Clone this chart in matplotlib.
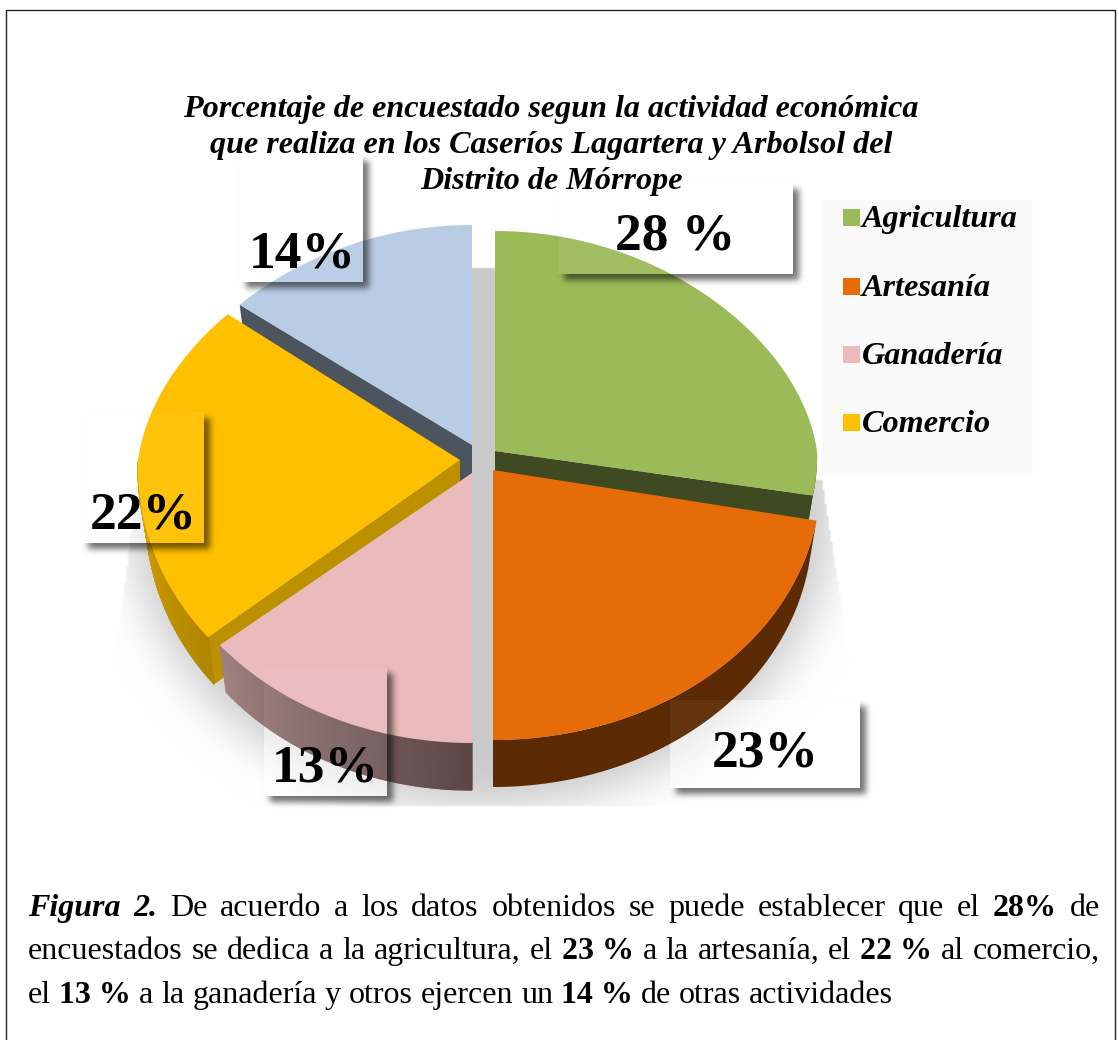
import numpy as np
import matplotlib
matplotlib.use('Agg')
import matplotlib.pyplot as plt
from matplotlib.patches import Polygon, Rectangle

# data
categories = ['Agricultura', 'Artesanía', 'Ganadería', 'Comercio', 'Otros']
# slice sizes as drawn in the picture (the typed labels say 23 and 13)
slice_sizes = [28, 22, 14, 22, 14]
label_texts = ['28 %', '23%', '13%', '22%', '14%']
legend_names = ['Agricultura', 'Artesanía', 'Ganadería', 'Comercio']
title_lines = ['Porcentaje de encuestado segun la actividad económica',
               'que realiza en los Caseríos Lagartera y Arbolsol del',
               'Distrito de Mórrope']

# styles
top_colors = ['#9bbb59', '#e66c0a', '#ebbabb', '#ffc000', '#b8cce4']
wall_from = ['#3f4a22', '#5c2a03', '#a08080', '#d4a200', '#4c555e']
wall_to = ['#3f4a22', '#5c2a03', '#5c4646', '#b08500', '#4c555e']
radial_colors = ['#3f4a22', '#5c2a03', '#a08080', '#bd9000', '#4c555e']
explode = [(12, -9), (10, 10), (-11, 13), (-23, 0), (-11, -15)]
# small per-slice corrections of the hand-made perspective
x_scale = [1, 1.018, 1, 1, 1]
back_scale = [1, 1, 1, 1.04, 1]
front_scale = [0.88, 1, 1, 1.03, 1]
draw_order = [4, 0, 3, 2, 1]
label_boxes = [(558, 183, 793, 274), (670, 700, 860, 788), (264, 667, 387, 796),
               (82, 412, 204, 543), (240, 155, 363, 282)]
label_centers = [(675, 231), (765, 748), (325, 763), (143, 510), (302, 249)]
legend_rows = [218, 287, 355, 423]

CX, CY = 483, 460
RX, RY_BACK, RY_FRONT = 322, 220, 270
K_BACK, K_FRONT = 0.1, 0.025
DEPTH = 47
FLOOR_SHRINK = 0.975
W, H = 1119, 1040
SERIF = 'Liberation Serif'


def rim(i, angles, offset):
    s, c = np.sin(np.radians(angles)), np.cos(np.radians(angles))
    k = np.where(c > 0, K_BACK, K_FRONT)
    ry = np.where(c > 0, RY_BACK * back_scale[i], RY_FRONT * front_scale[i])
    return RX * x_scale[i] * s * (1 - k * c) + offset[0], -ry * c + offset[1]


def blur(mask, sigma):
    n = int(sigma * 3)
    kernel = np.exp(-0.5 * (np.arange(-n, n + 1) / sigma) ** 2)
    kernel /= kernel.sum()
    mask = np.apply_along_axis(lambda v: np.convolve(v, kernel, mode='same'), 0, mask)
    return np.apply_along_axis(lambda v: np.convolve(v, kernel, mode='same'), 1, mask)


def draw_floor_shadow(ax):
    yy, xx = np.mgrid[0:H // 2, 0:W // 2] * 2
    mask = (((xx - 480) / 352.0) ** 2 + ((yy - 505) / 302.0) ** 2 < 1).astype(float)
    mask = blur(mask, 11)
    mask[(yy < 267) | (yy > 805)] = 0
    # the soft shadow is cut by two slanted sides
    mask[xx < 133 - (yy - 510) * 0.125] = 0
    mask[xx > 822 + (yy - 490) * 0.155] = 0
    mask[(yy < 480) & ((xx < 300) | (xx > 650))] = 0
    img = np.zeros(mask.shape + (4,))
    img[..., :3] = 0.796
    img[..., 3] = np.clip(mask, 0, 1)
    ax.imshow(img, extent=(0, W, H, 0), zorder=1, interpolation='bilinear', aspect='auto')


def draw_slice(ax, i, start, end):
    offset = (CX + explode[i][0], CY + explode[i][1])
    angles = np.linspace(start, end, 120)
    xs, ys = rim(i, angles, offset)
    low_x = offset[0] + (xs - offset[0]) * FLOOR_SHRINK
    low_y = ys + DEPTH

    # radial cut faces that look at the viewer
    faces = []
    if np.sin(np.radians(start)) < -0.01:
        faces.append(0)
    if np.sin(np.radians(end)) > 0.01:
        faces.append(-1)
    for k in faces:
        pts = [offset, (xs[k], ys[k]), (low_x[k], low_y[k]), (offset[0], offset[1] + DEPTH)]
        ax.add_patch(Polygon(pts, fc=radial_colors[i], ec='none', zorder=3))

    # outer wall, front half only
    front = np.cos(np.radians(angles)) < 0
    if front.any():
        a, b = np.where(front)[0][[0, -1]]
        if wall_from[i] == wall_to[i]:
            pts = list(zip(xs[a:b + 1], ys[a:b + 1])) + list(zip(low_x[a:b + 1][::-1], low_y[a:b + 1][::-1]))
            ax.add_patch(Polygon(pts, fc=wall_from[i], ec='none', zorder=3))
        else:
            c0 = np.array(matplotlib.colors.to_rgb(wall_from[i]))
            c1 = np.array(matplotlib.colors.to_rgb(wall_to[i]))
            for k in range(a, b):
                t = (k - a) / max(b - a - 1, 1)
                col = c1 * (1 - t) + c0 * t
                pts = [(xs[k], ys[k]), (xs[k + 1], ys[k + 1]), (low_x[k + 1], low_y[k + 1]), (low_x[k], low_y[k])]
                ax.add_patch(Polygon(pts, fc=col, ec=col, lw=1.0, zorder=3))

    pts = [offset] + list(zip(xs, ys))
    ax.add_patch(Polygon(pts, fc=top_colors[i], ec='none', zorder=3))


def draw_box_shadow(ax, box):
    x0, y0, x1, y1 = box
    yy, xx = np.mgrid[0:H, 0:W]
    mask = ((xx >= x0 + 6) & (xx < x1 + 6) & (yy >= y0 + 6) & (yy < y1 + 6)).astype(float)
    sub = mask[y0 - 5:y1 + 25, x0 - 5:x1 + 25]
    sub = blur(sub, 3.2)
    sub[5:5 + y1 - y0, 5:5 + x1 - x0] = 0
    img = np.zeros(sub.shape + (4,))
    img[..., 3] = sub * 0.55
    ax.imshow(img, extent=(x0 - 5, x1 + 25, y1 + 25, y0 - 5), zorder=5,
              interpolation='bilinear', aspect='auto')


def draw_justified(ax, fig, runs, y, left, right, size, justify=True):
    renderer = fig.canvas.get_renderer()
    items = []
    for word, bold, italic in runs:
        t = ax.text(0, y, word, family=SERIF, fontsize=size, color='black', va='baseline',
                    fontweight='bold' if bold else 'normal',
                    fontstyle='italic' if italic else 'normal', zorder=7)
        items.append((t, t.get_window_extent(renderer).width))
    used = sum(w for _, w in items)
    gap = (right - left - used) / (len(items) - 1) if justify else size * 100 / 72 * 0.25
    x = left
    for t, w in items:
        t.set_x(x)
        x += w + gap


def parse(line):
    # *x* = bold, _x_ = bold italic
    runs = []
    for word in line.split(' '):
        if word.startswith('_'):
            runs.append((word.strip('_').replace('~', ' '), True, True))
        elif word.startswith('*'):
            runs.append((word.strip('*').replace('~', ' '), True, False))
        else:
            runs.append((word, False, False))
    return runs


fig = plt.figure(figsize=(W / 100, H / 100), dpi=100)
ax = fig.add_axes([0, 0, 1, 1])
ax.set_xlim(0, W)
ax.set_ylim(H, 0)
ax.axis('off')

# page border
ax.plot([5.5, 5.5, 1114.5, 1114.5], [H, 9.5, 9.5, H], color='#222222', lw=1, zorder=8)

draw_floor_shadow(ax)

for box in label_boxes:
    ax.add_patch(Rectangle((box[0], box[1]), box[2] - box[0], box[3] - box[1],
                           fc='white', alpha=0.55, ec='none', zorder=2))

edges = np.concatenate([[0], np.cumsum(slice_sizes)]) * 360.0 / sum(slice_sizes)
for i in draw_order:
    draw_slice(ax, i, edges[i], edges[i + 1])

for box in label_boxes:
    draw_box_shadow(ax, box)
    ax.add_patch(Rectangle((box[0], box[1]), box[2] - box[0], box[3] - box[1],
                           fc='white', alpha=0.05, ec='none', zorder=4))

for txt, (x, y) in zip(label_texts, label_centers):
    ax.text(x, y, txt, family=SERIF, fontsize=38.5, fontweight='bold', ha='center',
            va='center_baseline', zorder=7)

# title
for line, y in zip(title_lines, [109, 146, 182]):
    ax.text(551, y, line, family=SERIF, fontsize=23.1, fontweight='bold', fontstyle='italic',
            ha='center', va='center', zorder=7)

# legend
ax.add_patch(Rectangle((822, 200), 211, 273, fc='#f9f9f9', ec='none', zorder=0))
for name, color, y in zip(legend_names, top_colors, legend_rows):
    ax.add_patch(Rectangle((843, y - 9), 17, 17, fc=color, ec='none', zorder=6))
    ax.text(862, y + 2, name, family=SERIF, fontsize=23.2, fontweight='bold', fontstyle='italic',
            va='center', zorder=7)

# caption
line1 = '_Figura_ _2._ De acuerdo a los datos obtenidos se puede establecer que el *28%* de'
line2 = 'encuestados se dedica a la agricultura, el *23~%* a la artesanía, el *22~%* al comercio,'
line3 = 'el *13~%* a la ganadería y otros ejercen un *14~%* de otras actividades'
fig.canvas.draw()
draw_justified(ax, fig, parse(line1), 916, 28, 1100, 23)
draw_justified(ax, fig, parse(line2), 959, 28, 1100, 23)
draw_justified(ax, fig, parse(line3), 1003, 28, 1100, 23, justify=False)

fig.savefig('out.png', dpi=100)
